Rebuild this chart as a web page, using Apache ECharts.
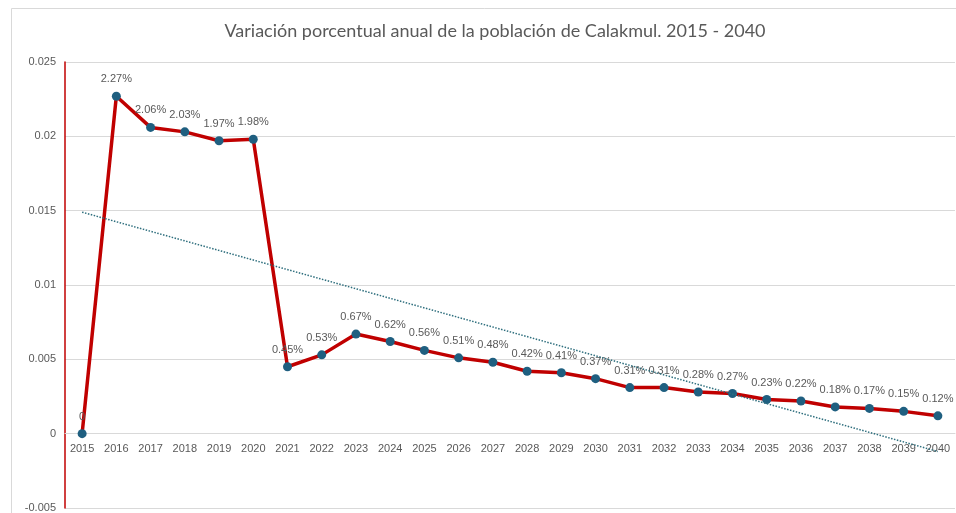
<!DOCTYPE html>
<html>
<head>
<meta charset="utf-8">
<script src="https://cdn.jsdelivr.net/npm/echarts@6/dist/echarts.min.js"></script>
<style>
  html, body { margin: 0; padding: 0; background: #fff; }
  #chart { width: 956px; height: 513px; }
</style>
</head>
<body>
<div id="chart"></div>
<script>
var years = ['2015','2016','2017','2018','2019','2020','2021','2022','2023','2024','2025','2026','2027',
             '2028','2029','2030','2031','2032','2033','2034','2035','2036','2037','2038','2039','2040'];
var variacion = [0, 0.0227, 0.0206, 0.0203, 0.0197, 0.0198, 0.0045, 0.0053, 0.0067, 0.0062, 0.0056, 0.0051, 0.0048,
                 0.0042, 0.0041, 0.0037, 0.0031, 0.0031, 0.0028, 0.0027, 0.0023, 0.0022, 0.0018, 0.0017, 0.0015, 0.0012];
// linear trend line, read at its two ends
var trendStart = 0.0149;
var trendEnd = -0.0012;
var yTicks = [-0.005, 0, 0.005, 0.01, 0.015, 0.02, 0.025];

var textColor = '#595959';
var gridTop = 62, gridBottom = 5, chartH = 513;
var yMin = yTicks[0], yMax = yTicks[yTicks.length - 1];
// move the category axis up to the zero line
var plotH = chartH - gridTop - gridBottom;
var zeroOffset = -plotH * (0 - yMin) / (yMax - yMin);

var chart = echarts.init(document.getElementById('chart'));
chart.setOption({
    backgroundColor: '#fff',
    animation: false,
    title: {
        text: 'Variación porcentual anual de la población de Calakmul. 2015 - 2040',
        left: 490,
        textAlign: 'center',
        top: 17,
        textStyle: { fontFamily: 'Lato', fontWeight: 'normal', fontSize: 18, color: textColor }
    },
    graphic: [{
        type: 'rect',
        shape: { x: 11.5, y: 8.5, width: 960, height: 520 },
        style: { fill: 'none', stroke: '#d9d9d9', lineWidth: 1 },
        silent: true
    }],
    grid: { left: 65, right: 1, top: gridTop, bottom: gridBottom, outerBoundsMode: 'none', containLabel: false },
    xAxis: {
        type: 'category',
        data: years,
        boundaryGap: true,
        offset: zeroOffset,
        axisLine: { onZero: false, lineStyle: { color: '#d9d9d9' } },
        axisTick: { show: false },
        axisLabel: { color: textColor, fontSize: 11, margin: 10, fontFamily: 'Liberation Sans', interval: 0 }
    },
    yAxis: {
        type: 'value',
        min: yMin,
        max: yMax,
        interval: 0.005,
        axisLine: { show: true, onZero: false, lineStyle: { color: '#c00000', width: 1.5 } },
        axisTick: { show: false },
        axisLabel: {
            color: textColor, fontSize: 11, margin: 9, fontFamily: 'Liberation Sans',
            formatter: function (v) { return String(+v.toFixed(3)); }
        },
        splitLine: { lineStyle: { color: '#d9d9d9' } }
    },
    series: [{
        type: 'line',
        data: variacion,
        symbol: 'circle',
        symbolSize: 9,
        lineStyle: { color: '#c00000', width: 3.5 },
        itemStyle: { color: '#1f5f80' },
        label: {
            show: true,
            position: 'top',
            distance: 7,
            color: textColor,
            fontSize: 11,
            fontFamily: 'Liberation Sans',
            formatter: function (p) { return p.value === 0 ? '0' : (p.value * 100).toFixed(2) + '%'; }
        },
        markLine: {
            silent: true,
            symbol: 'none',
            label: { show: false },
            lineStyle: { color: '#2f6f7e', type: 'dotted', width: 1.5 },
            data: [[{ coord: [years[0], trendStart] }, { coord: [years[years.length - 1], trendEnd] }]]
        },
        z: 3
    }]
});
</script>
</body>
</html>
